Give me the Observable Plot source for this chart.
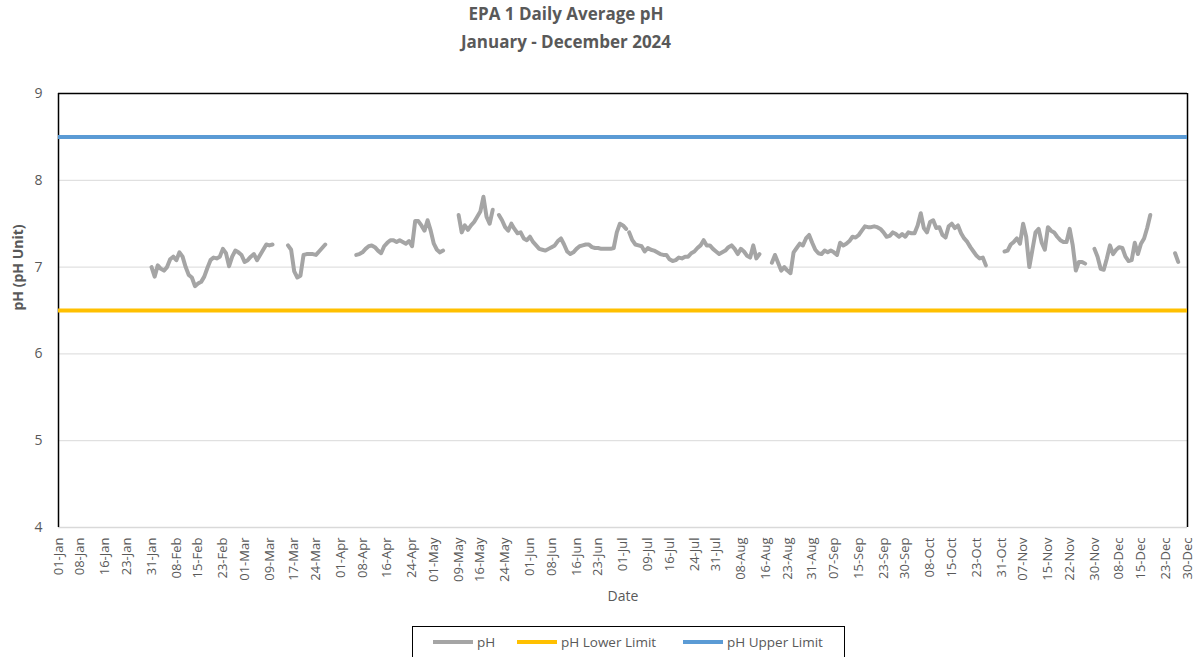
<!DOCTYPE html>
<html>
<head>
<meta charset="utf-8">
<script src="https://cdn.jsdelivr.net/npm/d3@7"></script>
<script src="https://cdn.jsdelivr.net/npm/@observablehq/plot@0.6"></script>
<style>
html,body{margin:0;padding:0;background:#fff;width:1200px;height:657px;overflow:hidden;font-family:"Open Sans",sans-serif;}
#title{position:absolute;left:0;top:0px;width:1132px;text-align:center;font-weight:bold;font-size:17px;line-height:28px;color:#595959;}
#chart{position:absolute;left:0;top:60px;}
#legend{position:absolute;left:412px;top:626px;width:433px;height:40px;border:1px solid #000;box-sizing:border-box;background:#fff;}
.item{position:absolute;top:0;height:30px;display:flex;align-items:center;font-size:13.5px;color:#595959;white-space:nowrap;}
.sw{width:40px;height:4px;margin-right:4px;}
</style>
</head>
<body>
<div id="title">EPA 1 Daily Average pH<br>January - December 2024</div>
<div id="chart"></div>
<div id="legend"></div>
<script>
// ---- data (daily average pH, each run of consecutive days starts at the given date) ----
const segStarts = ["2024-01-31","2024-03-15","2024-04-06","2024-05-09","2024-05-22","2024-07-03","2024-08-18","2024-11-01","2024-11-30","2024-12-26"];
const phJanMar = [7.00,6.89,7.02,6.98,6.96,7.00,7.09,7.12,7.08,7.17,7.12,7.00,6.91,6.88,6.78,6.81,6.83,6.89,6.99,7.08,7.11,7.10,7.12,7.21,7.16,7.01,7.12,7.19,7.17,7.14,7.06,7.08,7.12,7.15,7.08,7.14,7.20,7.26,7.25,7.26];
const phMar = [7.25,7.20,6.95,6.88,6.90,7.14,7.15,7.15,7.15,7.14,7.18,7.22,7.26];
const phAprMay = [7.14,7.15,7.17,7.21,7.24,7.25,7.23,7.19,7.16,7.24,7.28,7.31,7.31,7.29,7.31,7.29,7.27,7.30,7.24,7.53,7.53,7.48,7.42,7.54,7.42,7.27,7.20,7.17,7.19];
const phMay = [7.60,7.40,7.48,7.43,7.48,7.52,7.58,7.64,7.81,7.58,7.50,7.66];
const phMayJul = [7.60,7.54,7.46,7.42,7.50,7.44,7.39,7.40,7.33,7.31,7.35,7.29,7.25,7.21,7.20,7.19,7.21,7.23,7.25,7.30,7.33,7.26,7.18,7.15,7.17,7.21,7.24,7.25,7.26,7.26,7.23,7.22,7.22,7.21,7.21,7.21,7.21,7.22,7.40,7.50,7.48,7.44];
const phJulAug = [7.40,7.31,7.26,7.25,7.24,7.18,7.22,7.20,7.19,7.17,7.15,7.14,7.14,7.09,7.07,7.08,7.11,7.10,7.12,7.12,7.16,7.18,7.22,7.25,7.31,7.25,7.25,7.21,7.18,7.15,7.17,7.19,7.23,7.25,7.21,7.15,7.21,7.18,7.13,7.11,7.25,7.10,7.15];
const phAugOct = [7.05,7.14,7.05,6.96,7.00,6.96,6.93,7.17,7.22,7.27,7.25,7.33,7.37,7.28,7.20,7.16,7.15,7.19,7.17,7.19,7.17,7.14,7.28,7.25,7.27,7.30,7.35,7.34,7.37,7.42,7.47,7.46,7.46,7.47,7.46,7.44,7.40,7.35,7.36,7.40,7.38,7.35,7.38,7.35,7.40,7.39,7.39,7.48,7.62,7.45,7.40,7.52,7.54,7.45,7.46,7.37,7.34,7.47,7.50,7.45,7.48,7.39,7.33,7.29,7.23,7.18,7.13,7.10,7.11,7.02];
const phNov = [7.18,7.19,7.26,7.29,7.33,7.27,7.50,7.35,7.00,7.20,7.40,7.44,7.28,7.20,7.46,7.42,7.40,7.35,7.31,7.29,7.29,7.44,7.25,6.96,7.06,7.06,7.04];
const phDec = [7.21,7.12,6.98,6.97,7.10,7.25,7.15,7.20,7.23,7.22,7.12,7.07,7.08,7.28,7.15,7.27,7.33,7.45,7.60];
const phDecEnd = [7.16,7.06];
const lowerLimit = 6.5;
const upperLimit = 8.5;
const yTicks = [4,5,6,7,8,9];
const xDomain = ["2024-01-01","2024-12-30"];
const xTickLabels = ["2024-01-01","2024-01-08","2024-01-16","2024-01-23","2024-01-31","2024-02-08","2024-02-15","2024-02-23","2024-03-01","2024-03-09","2024-03-17","2024-03-24","2024-04-01","2024-04-08","2024-04-16","2024-04-24","2024-05-01","2024-05-09","2024-05-16","2024-05-24","2024-06-01","2024-06-08","2024-06-16","2024-06-23","2024-07-01","2024-07-09","2024-07-16","2024-07-24","2024-07-31","2024-08-08","2024-08-16","2024-08-23","2024-08-31","2024-09-07","2024-09-15","2024-09-23","2024-09-30","2024-10-08","2024-10-15","2024-10-23","2024-10-31","2024-11-07","2024-11-15","2024-11-22","2024-11-30","2024-12-08","2024-12-15","2024-12-23","2024-12-30"];
const seriesNames = ["pH","pH Lower Limit","pH Upper Limit"];
const seriesColors = ["#a5a5a5","#ffc000","#5b9bd5"];

// ---- build table ----
const segValues = [phJanMar, phMar, phAprMay, phMay, phMayJul, phJulAug, phAugOct, phNov, phDec, phDecEnd];
const rows = [];
segValues.forEach((vals, i) => {
  const start = new Date(segStarts[i]);
  vals.forEach((v, j) => rows.push({date: d3.utcDay.offset(start, j), ph: v, seg: i}));
});
const x0 = new Date(xDomain[0]), x1 = new Date(xDomain[1]);
const fmt = d3.utcFormat("%d-%b");

const chart = Plot.plot({
  width: 1200,
  height: 560,
  marginLeft: 58,
  marginRight: 13,
  marginTop: 33,
  marginBottom: 93,
  style: {fontFamily: "Open Sans", fontSize: "13px", color: "#595959", background: "transparent", overflow: "visible"},
  x: {type: "utc", domain: [x0, x1]},
  y: {domain: [4, 9]},
  marks: [
    Plot.ruleY(yTicks.filter(t => t > 4 && t < 9), {stroke: "#d9d9d9", strokeWidth: 1}),
    Plot.ruleY([4], {stroke: "#d9d9d9", strokeWidth: 1.5}),
    Plot.ruleY([9], {stroke: "#000", strokeWidth: 1.5}),
    Plot.ruleX([x0, x1], {stroke: "#000", strokeWidth: 1.5}),
    Plot.ruleY([lowerLimit], {stroke: seriesColors[1], strokeWidth: 4}),
    Plot.ruleY([upperLimit], {stroke: seriesColors[2], strokeWidth: 4}),
    Plot.line(rows, {x: "date", y: "ph", z: "seg", stroke: seriesColors[0], strokeWidth: 4, strokeLinejoin: "round", strokeLinecap: "round"}),
    Plot.axisY({ticks: yTicks, tickFormat: d => String(d), tickSize: 0, tickPadding: 16, fontSize: 14, label: null}),
    Plot.axisX({ticks: xTickLabels.map(d => new Date(d)), tickFormat: fmt, tickRotate: -90, tickSize: 0, tickPadding: 10, fontSize: 13, label: null}),
    Plot.text(["Date"], {text: d => d, frameAnchor: "bottom", dy: 73, fontSize: 14, fill: "#595959"}),
    Plot.text(["pH (pH Unit)"], {text: d => d, frameAnchor: "left", dx: -40, rotate: -90, fontSize: 14, fontWeight: "bold", fill: "#595959"})
  ]
});
document.getElementById("chart").appendChild(chart);

// ---- legend ----
const legend = document.getElementById("legend");
const offsets = [20, 104, 270];
seriesNames.forEach((name, i) => {
  const it = document.createElement("div");
  it.className = "item";
  it.style.left = offsets[i] + "px";
  it.innerHTML = `<span class="sw" style="background:${seriesColors[i]}"></span><span>${name}</span>`;
  legend.appendChild(it);
});
</script>
</body>
</html>
